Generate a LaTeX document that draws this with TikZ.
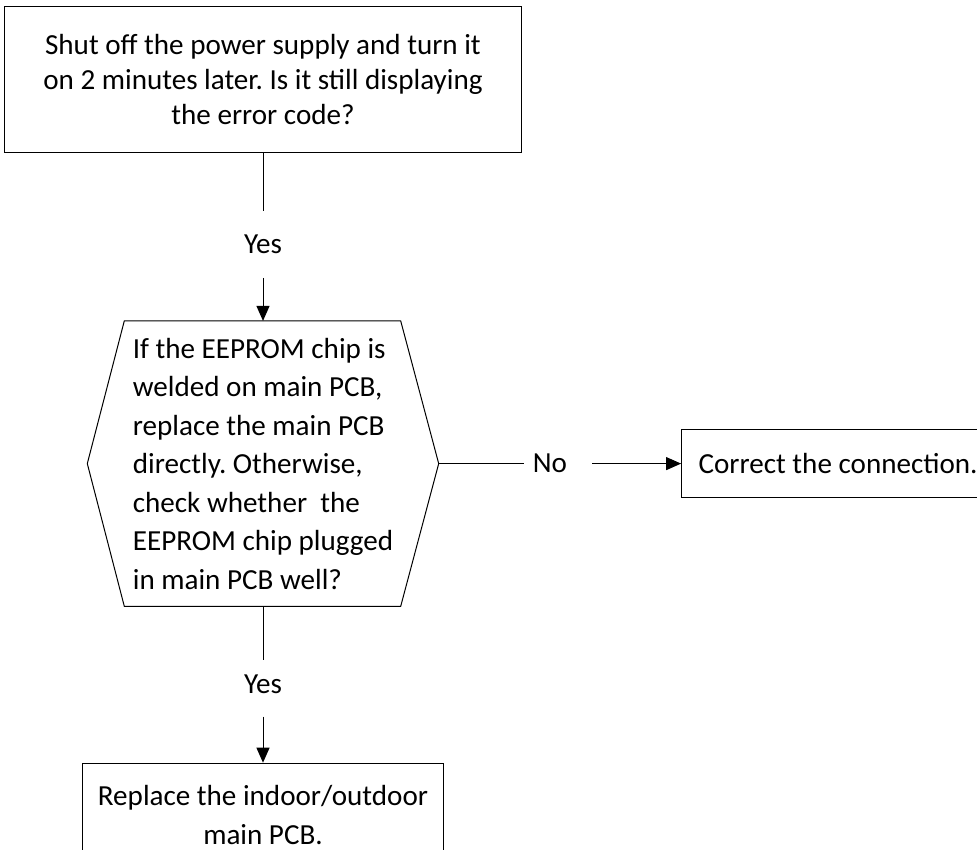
\documentclass[tikz,border=0pt]{standalone}
\usepackage{fontspec}
\setmainfont{Carlito}
\usetikzlibrary{arrows.meta,positioning}
\frenchspacing

\newcommand{\flowfont}[1]{\fontsize{29.1}{#1}\selectfont}

\tikzset{
  process/.style={draw, line width=1pt, align=center, inner sep=0pt},
  decision/.style={inner sep=0pt, minimum width=351pt, minimum height=285pt,
    align=left, font=\flowfont{38.5}},
  answer/.style={inner sep=0pt, font=\flowfont{35}},
  flow/.style={line width=1pt},
  flowarrow/.style={line width=1pt, -{Triangle[length=15pt,width=13pt]}},
}

\begin{document}
\begin{tikzpicture}[x=1pt,y=1pt]
    \useasboundingbox (0,0) rectangle (977,-850);
    \clip (0,0) rectangle (977,-850);
    % Nodes
    \node[process, minimum width=517pt, minimum height=146pt, font=\flowfont{35}] (shut) at (263,-80)
      {Shut off the power supply and turn it\\ on 2 minutes later. Is it still displaying\\ the error code?} ; %
    \node[answer, minimum height=66pt, below=58pt of shut] (yes1) {Yes} ; %
    \node[decision, below=43pt of yes1] (check)
      {If the EEPROM chip is\\ welded on main PCB,\\ replace the main PCB\\ directly. Otherwise,\\ check whether\ \ the\\ EEPROM chip plugged\\ in main PCB well?} ; %
    \node[answer, minimum width=52pt, right=85pt of check] (no) {No} ; %
    \node[process, inner xsep=17pt, minimum height=68pt, font=\flowfont{35}, right=105pt of no] (fix)
      {Correct the connection.} ; %
    \node[answer, minimum height=64pt, below=46pt of check] (yes2) {Yes} ; %
    \node[process, minimum width=361pt, minimum height=103pt, font=\flowfont{39}, below=46pt of yes2] (replace)
      {Replace the indoor/outdoor\\ main PCB.} ; %
    % Hexagon outline
    \draw[flow] (check.west) -- ([xshift=37pt]check.north west) -- ([xshift=-38pt]check.north east)
      -- (check.east) -- ([xshift=-38pt]check.south east) -- ([xshift=37pt]check.south west) -- cycle ; %
    % Edges
    \draw[flow] (shut) -- (yes1) ; %
    \draw[flowarrow] (yes1) -- (check) ; %
    \draw[flow] (check) -- (no) ; %
    \draw[flowarrow, shorten <=16pt] (no) -- (fix) ; %
    \draw[flow, shorten >=-8pt] (check) -- (yes2) ; %
    \draw[flowarrow] (yes2) -- (replace) ; %
\end{tikzpicture}
\end{document}
